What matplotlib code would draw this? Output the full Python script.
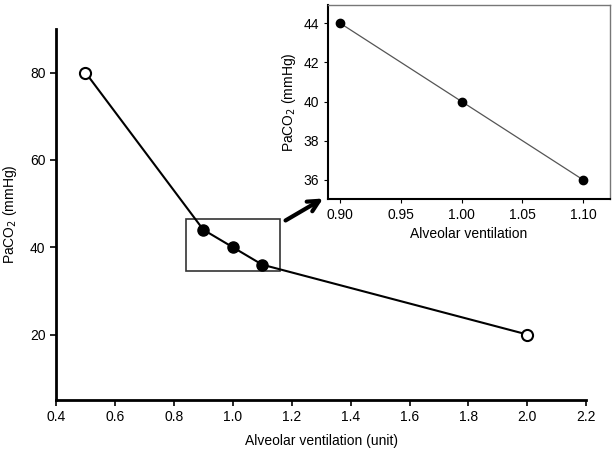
import matplotlib.pyplot as plt
from matplotlib.patches import Rectangle

plt.rcParams['font.family'] = ['Liberation Sans', 'DejaVu Sans']
plt.rcParams['font.size'] = 10

# main curve
vent = [0.5, 0.9, 1.0, 1.1, 2.0]
paco2 = [80, 44, 40, 36, 20]
open_x = [0.5, 2.0]
open_y = [80, 20]
filled_x = [0.9, 1.0, 1.1]
filled_y = [44, 40, 36]

# inset
inset_x = [0.90, 1.00, 1.10]
inset_y = [44, 40, 36]

fig = plt.figure(figsize=(6.13, 4.51), dpi=100)
ax = fig.add_axes([0.0914, 0.113, 0.865, 0.823])
ax.plot(vent, paco2, color='black', lw=1.5, zorder=2)
ax.plot(filled_x, filled_y, 'o', color='black', ms=8, zorder=3)
ax.plot(open_x, open_y, 'o', mfc='white', mec='black', mew=1.5, ms=8, zorder=3)
ax.set_xlim(0.4, 2.2)
ax.set_ylim(5, 90)
ax.set_xticks([0.4, 0.6, 0.8, 1.0, 1.2, 1.4, 1.6, 1.8, 2.0, 2.2])
ax.set_yticks([20, 40, 60, 80])
ax.spines['top'].set_visible(False)
ax.spines['right'].set_visible(False)
ax.spines['left'].set_linewidth(2)
ax.spines['bottom'].set_linewidth(2)
ax.tick_params(width=1.2, length=4)
ax.set_xlabel('Alveolar ventilation (unit)', labelpad=7)
ax.set_ylabel('PaCO$_2$ (mmHg)', labelpad=8)

ax.add_patch(Rectangle((0.84, 34.6), 0.32, 11.9, fill=False, ec='#333333', lw=1.2, zorder=1))

ax.annotate('', xy=(0.531, 0.563), xycoords='figure fraction',
            xytext=(1.171, 45.8), textcoords='data',
            arrowprops=dict(arrowstyle='->', lw=3, color='black', mutation_scale=20))

ins = fig.add_axes([0.535, 0.559, 0.460, 0.430])
ins.plot(inset_x, inset_y, color='#555555', lw=0.9)
ins.plot(inset_x, inset_y, 'o', color='black', ms=6)
ins.set_xlim(0.89, 1.122)
ins.set_ylim(35.03, 44.93)
ins.set_xticks([0.90, 0.95, 1.00, 1.05, 1.10])
ins.set_xticklabels(['0.90', '0.95', '1.00', '1.05', '1.10'])
ins.set_yticks([36, 38, 40, 42, 44])
for s in ins.spines.values():
    s.set_color('#777777')
    s.set_linewidth(1)
ins.spines['left'].set_color('black')
ins.spines['bottom'].set_color('black')
ins.spines['left'].set_linewidth(1.5)
ins.spines['bottom'].set_linewidth(1.5)
ins.tick_params(length=3)
ins.set_xlabel('Alveolar ventilation', labelpad=4)
ins.set_ylabel('PaCO$_2$ (mmHg)', labelpad=4)

fig.savefig('out.png', dpi=100)
